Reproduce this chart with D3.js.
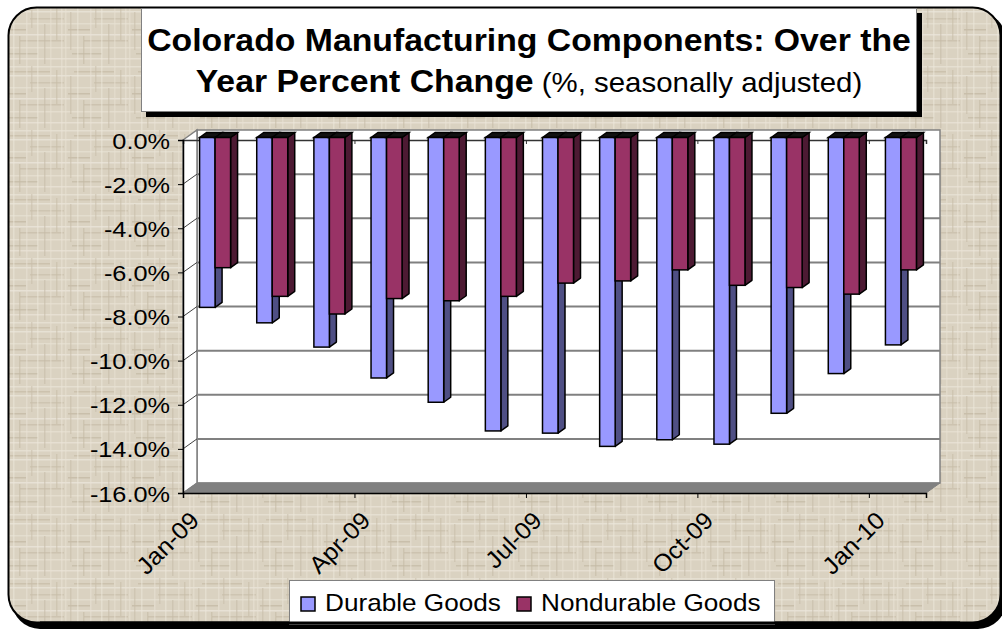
<!DOCTYPE html>
<html>
<head>
<meta charset="utf-8">
<script src="https://cdn.jsdelivr.net/npm/d3@7"></script>
<style>
  body { margin: 0; background: #ffffff; }
  svg { display: block; font-family: "Liberation Sans", Arial, sans-serif; }
</style>
</head>
<body>
<svg id="chart" width="1002" height="629"></svg>
<script>
// data
var months = ["Jan-09", "Feb-09", "Mar-09", "Apr-09", "May-09", "Jun-09", "Jul-09",
              "Aug-09", "Sep-09", "Oct-09", "Nov-09", "Dec-09", "Jan-10"];
var durable = [-7.7, -8.4, -9.5, -10.9, -12.0, -13.3, -13.4, -14.0, -13.7, -13.9, -12.5, -10.7, -9.4];
var nondurable = [-5.9, -7.2, -8.0, -7.3, -7.4, -7.2, -6.6, -6.5, -6.0, -6.7, -6.8, -7.1, -6.0];
var seriesNames = ["Durable Goods", "Nondurable Goods"];
var yTicks = [0, -2, -4, -6, -8, -10, -12, -14, -16];
var labelIdx = [0, 3, 6, 9, 12];

var frontCol = ["#9999ff", "#993366"];
var sideCol = ["#4f4f84", "#4d1a33"];

var svg = d3.select("#chart");

// ---- background texture (linen look)
var defs = svg.append("defs");
var pat = defs.append("pattern").attr("id", "linen")
    .attr("patternUnits", "userSpaceOnUse").attr("width", 64).attr("height", 64);
pat.append("rect").attr("width", 64).attr("height", 64).attr("fill", "#dad2c1");
// [pos, start, length, colour]
var hLines = [[2, 0, 64, "#eae4d7"], [7, 10, 40, "#c6bba6"], [11, 0, 64, "#ece7dc"], [18, 30, 34, "#c9bfab"],
              [23, 0, 64, "#e8e1d3"], [29, 4, 22, "#c2b7a1"], [34, 0, 64, "#ede8de"], [40, 20, 44, "#c8bda9"],
              [47, 0, 64, "#e9e2d4"], [53, 8, 30, "#c4b9a4"], [58, 0, 64, "#ebe5d9"]];
var vLines = [[1, 0, 64, "#e8e1d2"], [6, 12, 38, "#c7bca7"], [13, 0, 64, "#ece6da"], [19, 36, 28, "#c3b8a2"],
              [26, 0, 64, "#e9e2d4"], [31, 2, 26, "#c8bda9"], [37, 0, 64, "#ece6da"], [44, 24, 40, "#c5baa5"],
              [50, 0, 64, "#e7e0d1"], [56, 6, 34, "#c6bba6"], [61, 0, 64, "#eae4d7"]];
hLines.forEach(function (d) {
  pat.append("rect").attr("x", d[1]).attr("y", d[0]).attr("width", d[2]).attr("height", 1.5)
     .attr("fill", d[3]).attr("opacity", 0.7);
});
vLines.forEach(function (d) {
  pat.append("rect").attr("x", d[0]).attr("y", d[1]).attr("width", 1.5).attr("height", d[2])
     .attr("fill", d[3]).attr("opacity", 0.55);
});

// outer frame with shadow
svg.append("rect").attr("x", 12).attr("y", 12).attr("width", 994).attr("height", 617)
   .attr("rx", 28).attr("fill", "#000");
svg.append("rect").attr("x", 8.5).attr("y", 7.5).attr("width", 992).attr("height", 615)
   .attr("rx", 28).attr("fill", "url(#linen)").attr("stroke", "#000").attr("stroke-width", 2);

// ---- plot geometry
var X0 = 183, X1 = 926, DX = 14, DY = -10;
var y = d3.scaleLinear().domain([-16, 0]).range([493, 140]);
var xi = d3.scaleLinear().domain([0, months.length]).range([X0, X1]);
var band = d3.scaleBand().domain(months).range([X0, X1]);

var plot = svg.append("g");

// back wall
plot.append("rect").attr("x", X0 + DX).attr("y", y(0) + DY)
    .attr("width", X1 - X0).attr("height", y(-16) - y(0))
    .attr("fill", "#fff").attr("stroke", "#808080").attr("stroke-width", 1.5);
// side wall
plot.append("polygon")
    .attr("points", [[X0, y(0)], [X0 + DX, y(0) + DY], [X0 + DX, y(-16) + DY], [X0, y(-16)]].join(" "))
    .attr("fill", "#fff").attr("stroke", "#808080").attr("stroke-width", 1.5);

// gridlines on back wall and side wall
var gridVals = yTicks.filter(function (v) { return v < 0 && v > -16; });
plot.selectAll(".grid").data(gridVals).enter().append("line")
    .attr("x1", X0 + DX).attr("x2", X1 + DX)
    .attr("y1", function (d) { return y(d) + DY; }).attr("y2", function (d) { return y(d) + DY; })
    .attr("stroke", "#808080").attr("stroke-width", 2);
plot.selectAll(".sgrid").data(gridVals).enter().append("line")
    .attr("x1", X0).attr("x2", X0 + DX)
    .attr("y1", function (d) { return y(d); }).attr("y2", function (d) { return y(d) + DY; })
    .attr("stroke", "#404040").attr("stroke-width", 1);

// floor
plot.append("polygon")
    .attr("points", [[X0, y(-16)], [X0 + DX, y(-16) + DY], [X1 + DX, y(-16) + DY], [X1, y(-16)]].join(" "))
    .attr("fill", "#808080").attr("stroke", "#808080");

// zero line (category axis at 0)
plot.append("g").attr("transform", "translate(0," + y(0) + ")")
    .call(d3.axisBottom(xi).tickValues(labelIdx).tickSize(4).tickFormat(""))
    .call(function (g) {
      g.select(".domain").attr("stroke", "#333").attr("stroke-width", 1.5);
      g.selectAll(".tick line").attr("stroke", "#333");
    });

// ---- 3D bars
var barW = 15.5, bdx = 7, bdy = -5, off = -2.5;
var series = [durable, nondurable];
months.forEach(function (m, i) {
  var cx = band(m) + band.bandwidth() / 2 + 3.5;
  series.forEach(function (vals, s) {
    var x = cx - barW + s * barW;
    var yt = y(0) + off, yb = y(vals[i]) + off;
    var g = plot.append("g");
    // side face
    g.append("polygon")
      .attr("points", [[x + barW, yt], [x + barW + bdx, yt + bdy], [x + barW + bdx, yb + bdy], [x + barW, yb]].join(" "))
      .attr("fill", sideCol[s]).attr("stroke", "#000").attr("stroke-width", 1.5).attr("stroke-linejoin", "round");
    // top face
    g.append("polygon")
      .attr("points", [[x, yt], [x + bdx, yt + bdy], [x + barW + bdx, yt + bdy], [x + barW, yt]].join(" "))
      .attr("fill", "#111").attr("stroke", "#000").attr("stroke-width", 1.5);
    // front face
    g.append("rect").attr("x", x).attr("y", yt).attr("width", barW).attr("height", yb - yt)
      .attr("fill", frontCol[s]).attr("stroke", "#000").attr("stroke-width", 1.5);
  });
});

// ---- axes
var yAxis = svg.append("g").attr("transform", "translate(" + X0 + ",0)")
    .call(d3.axisLeft(y).tickValues(yTicks).tickSize(5)
      .tickFormat(function (d) { return d.toFixed(1) + "%"; }));
yAxis.select(".domain").attr("stroke", "#000").attr("stroke-width", 1.5);
yAxis.selectAll(".tick line").attr("stroke", "#000");
yAxis.selectAll(".tick text").attr("x", 0).attr("fill", "#000")
    .attr("font-size", 22).attr("font-family", "Liberation Sans, Arial, sans-serif")
    .attr("transform", "translate(-13,1) scale(1.15,1)");

var xAxis = svg.append("g").attr("transform", "translate(0," + y(-16) + ")")
    .call(d3.axisBottom(xi).tickValues(labelIdx).tickSize(5)
      .tickFormat(function (d) { return months[d]; }));
xAxis.select(".domain").attr("stroke", "#000").attr("stroke-width", 1.5);
xAxis.selectAll(".tick line").attr("stroke", "#000");
xAxis.selectAll(".tick text").attr("x", 0).attr("y", 0).attr("dy", "0.35em")
    .attr("fill", "#000").attr("text-anchor", "end")
    .attr("font-size", 24).attr("font-family", "Liberation Sans, Arial, sans-serif")
    .attr("transform", "translate(11,23) rotate(-45) scale(1.04,1)");

// ---- title box
svg.append("rect").attr("x", 146).attr("y", 13).attr("width", 776).attr("height", 104).attr("fill", "#000");
svg.append("rect").attr("x", 141.5).attr("y", 8.5).attr("width", 775).attr("height", 103)
   .attr("fill", "#fff").attr("stroke", "#808080").attr("stroke-width", 1);
var tcx = 529;
svg.append("text").attr("text-anchor", "middle").attr("font-size", 31).attr("font-weight", "bold")
   .attr("transform", "translate(" + tcx + ",51) scale(1.09,1)")
   .text("Colorado Manufacturing Components: Over the");
var t2 = svg.append("text").attr("text-anchor", "middle").attr("font-size", 31)
   .attr("transform", "translate(" + tcx + ",92) scale(1.09,1)");
t2.append("tspan").attr("font-weight", "bold").text("Year Percent Change");
t2.append("tspan").attr("font-size", 27).text(" (%, seasonally adjusted)");

// ---- legend
svg.append("rect").attr("x", 289.5).attr("y", 580.5).attr("width", 485).attr("height", 44)
   .attr("fill", "#fff").attr("stroke", "#808080").attr("stroke-width", 1);
var legX = [301, 517];
seriesNames.forEach(function (name, s) {
  svg.append("rect").attr("x", legX[s]).attr("y", 597).attr("width", 14).attr("height", 14)
     .attr("fill", frontCol[s]).attr("stroke", "#000").attr("stroke-width", 1.5);
  svg.append("text").attr("font-size", 24)
     .attr("transform", "translate(" + (legX[s] + 24) + ",611) scale(1.09,1)")
     .text(name);
});
// frame bottom edge redrawn over legend
svg.append("path").attr("d", "M 40 623 L 960 623").attr("stroke", "#000").attr("stroke-width", 3);
</script>
</body>
</html>
